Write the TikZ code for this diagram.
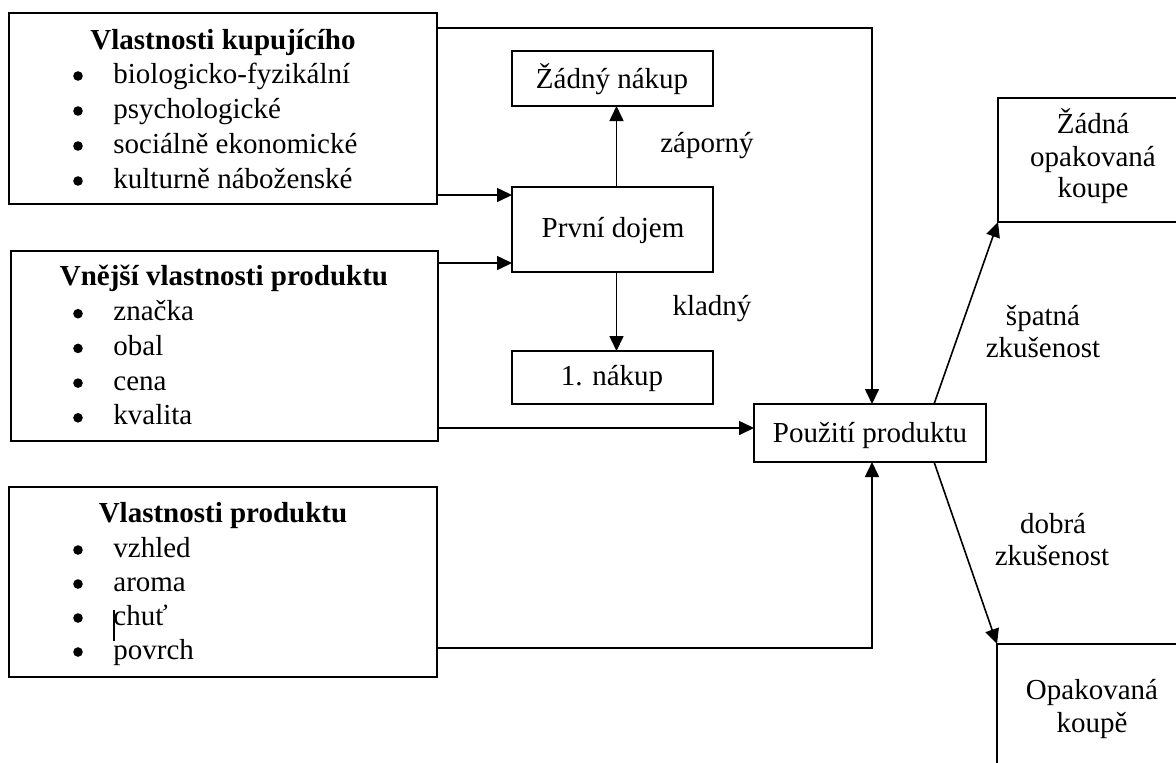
\documentclass[tikz,border=0pt]{standalone}
\usepackage{fontspec}
\setmainfont{Liberation Serif}
\usetikzlibrary{arrows.meta,calc}
\newcommand{\diagfont}{\fontsize{14.5pt}{17.5pt}\selectfont}
\begin{document}
\begin{tikzpicture}[x=0.5pt,y=-0.5pt,
  box/.style={draw, line width=0.8pt, inner sep=0pt, outer sep=0pt, anchor=north west},
  txt/.style={anchor=base, inner sep=0pt, font=\diagfont},
  head/.style={anchor=base, inner sep=0pt, font=\diagfont\bfseries},
  item/.style={anchor=base west, inner sep=0pt, font=\diagfont},
  dot/.style={circle, fill, inner sep=0pt, minimum size=4.8pt},
  arr/.style={line width=0.8pt, -{Triangle[length=7.5pt,width=7pt]}}]
\useasboundingbox (0,0) rectangle (1176,762);
\clip (0,0) rectangle (1176,762);

% input boxes on the left
\node[box, minimum width=214pt, minimum height=95.5pt] (b1) at (9,13) {};
\node[box, minimum width=213.5pt, minimum height=95pt] (b2) at (11,251) {};
\node[box, minimum width=214pt, minimum height=95pt] (b3) at (9,487) {};

% central boxes
\node[box, minimum width=100.5pt, minimum height=27.5pt] (zadny) at (512,51) {};
\node[box, minimum width=100.5pt, minimum height=42.5pt] (dojem) at (512,187) {};
\node[box, minimum width=100.5pt, minimum height=26.5pt] (nakup) at (512,351) {};
\node[box, minimum width=116pt, minimum height=29pt] (pouz) at (754,404) {};

% outcome boxes on the right
\node[box, minimum width=95pt, minimum height=62pt] (zok) at (998,98) {};
\node[box, minimum width=95pt, minimum height=70pt] (ok) at (997,644) {};

% box texts with bulleted lists
\node[head] (h1) at (223,49) {Vlastnosti kupujícího};
\foreach \t [count=\i] in {biologicko-fyzikální, psychologické, sociálně ekonomické, kulturně náboženské}{
  \node[dot] (b1d\i) at (78,{41+35*\i}) {};
  \node[item] (b1i\i) at (113,{48+35*\i}) {\t};
}
\node[head] (h2) at (224,285) {Vnější vlastnosti produktu};
\foreach \t [count=\i] in {značka, obal, cena, kvalita}{
  \node[dot] (b2d\i) at (78,{279+34.7*\i}) {};
  \node[item] (b2i\i) at (113,{286+34.7*\i}) {\t};
}
\node[head] (h3) at (223,522) {Vlastnosti produktu};
\foreach \t [count=\i] in {vzhled, aroma, chuť, povrch}{
  \node[dot] (b3d\i) at (78,{516+34*\i}) {};
  \node[item] (b3i\i) at (113,{523+34*\i}) {\t};
}
% text cursor left in the list
\draw[line width=1pt] (114,610) -- (114,641);

\node[txt] (tzadny) at (612,88) {Žádný nákup};
\node[txt] (tdojem) at (613,237) {První dojem};
\node[txt] (tnakup) at (612,385) {1. nákup};
\node[txt] (tpouz) at (870,442) {Použití produktu};
\node[txt] (tzok1) at (1093,133) {Žádná};
\node[txt] (tzok2) at (1093,166) {opakovaná};
\node[txt] (tzok3) at (1093,197) {koupe};
\node[txt] (tok1) at (1092,699) {Opakovaná};
\node[txt] (tok2) at (1092,732) {koupě};

% connector labels
\node[txt] (lzap) at (707,152) {záporný};
\node[txt] (lkla) at (712,315) {kladný};
\node[txt] (lspa1) at (1043,325) {špatná};
\node[txt] (lspa2) at (1043,357) {zkušenost};
\node[txt] (ldob1) at (1053,533) {dobrá};
\node[txt] (ldob2) at (1052,565) {zkušenost};

% connectors
\draw[arr] ($(b1.north east)+(0,15)$) -| ($(pouz.north)+(2,0)$);
\draw[arr] ($(b1.south east)+(0,-9)$) coordinate (s1) -- (s1 -| dojem.west);
\draw[arr] ($(b2.north east)+(0,12)$) coordinate (s2) -- (s2 -| dojem.west);
\draw[arr] ($(pouz.west)+(0,-5)$) coordinate (e3) (e3 -| b2.east) -- (e3);
\draw[arr] ($(b3.south east)+(0,-29)$) -| ($(pouz.south)+(2,0)$);
\draw[arr] ($(dojem.north)+(4,0)$) -- ($(zadny.south)+(4,0)$);
\draw[arr] ($(dojem.south)+(4,0)$) -- ($(nakup.north)+(4,0)$);
\draw[arr] ($(pouz.north west)!0.776!(pouz.north east)$) -- (zok.south west);
\draw[arr] ($(pouz.south west)!0.776!(pouz.south east)$) -- (ok.north west);
\end{tikzpicture}
\end{document}
